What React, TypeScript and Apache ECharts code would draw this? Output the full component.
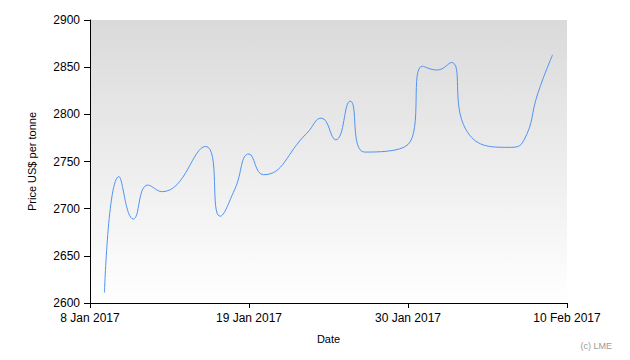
import React, { useEffect, useRef } from "react";
import * as echarts from "echarts";

const dates = [
  "2017-01-09", "2017-01-10", "2017-01-11", "2017-01-12", "2017-01-13",
  "2017-01-16", "2017-01-17", "2017-01-18", "2017-01-19", "2017-01-20",
  "2017-01-23", "2017-01-24", "2017-01-25", "2017-01-26", "2017-01-27",
  "2017-01-30", "2017-01-31", "2017-02-01", "2017-02-02", "2017-02-03",
  "2017-02-06", "2017-02-07", "2017-02-08", "2017-02-09",
];
const prices = [
  2611, 2734, 2689, 2725, 2718,
  2766, 2692, 2720, 2758, 2736,
  2780, 2796, 2773, 2814, 2760,
  2768, 2851, 2847, 2855, 2784,
  2765, 2772, 2823, 2863,
];
const startDate = "2017-01-08";
const tickLabels = ["8 Jan 2017", "19 Jan 2017", "30 Jan 2017", "10 Feb 2017"];
const tickStepDays = 11;

const DAY = 86400000;
const toUTC = (s: string) => {
  const [y, m, d] = s.split("-").map(Number);
  return Date.UTC(y, m - 1, d);
};

export default function App() {
  const ref = useRef<HTMLDivElement>(null);
  useEffect(() => {
    if (!ref.current) return;
    const chart = echarts.init(ref.current, null, { renderer: "svg" });
    const t0 = toUTC(startDate);
    const data = dates.map((d, i) => [(toUTC(d) - t0) / DAY, prices[i]]);
    const font = "'Liberation Sans', Arial, sans-serif";
    chart.setOption({
      animation: false,
      grid: {
        left: 90,
        right: 63,
        top: 20,
        bottom: 57,
        show: true,
        borderWidth: 0,
        backgroundColor: new echarts.graphic.LinearGradient(0, 0, 0, 1, [
          { offset: 0, color: "#dadada" },
          { offset: 1, color: "#ffffff" },
        ]),
      },
      xAxis: {
        type: "value",
        min: 0,
        max: tickStepDays * (tickLabels.length - 1),
        interval: tickStepDays,
        name: "Date",
        nameLocation: "middle",
        nameGap: 30,
        nameTextStyle: { color: "#000", fontSize: 11, fontFamily: font },
        splitLine: { show: false },
        axisLine: { lineStyle: { color: "#000", width: 1 } },
        axisTick: { length: 5, lineStyle: { color: "#000" } },
        axisLabel: {
          color: "#000",
          fontSize: 12,
          fontFamily: font,
          margin: 9,
          formatter: (v: number) => tickLabels[Math.round(v / tickStepDays)] ?? "",
        },
      },
      yAxis: {
        type: "value",
        min: 2600,
        max: 2900,
        interval: 50,
        name: "Price US$ per tonne",
        nameLocation: "middle",
        nameGap: 53,
        nameTextStyle: { color: "#000", fontSize: 11, fontFamily: font },
        splitLine: { show: false },
        axisLine: { show: true, lineStyle: { color: "#000", width: 1 } },
        axisTick: { show: true, length: 6, lineStyle: { color: "#000" } },
        axisLabel: {
          color: "#000",
          fontSize: 12,
          fontFamily: font,
          margin: 10,
          formatter: (v: number) => String(v),
        },
      },
      series: [
        {
          type: "line",
          data,
          smooth: 0.5,
          showSymbol: false,
          lineStyle: { color: "#5293f0", width: 1 },
        },
      ],
      graphic: [
        {
          type: "text",
          right: 18,
          top: 341,
          style: { text: "(c) LME", fill: "#999", fontSize: 9, fontFamily: font },
        },
      ],
    });
    return () => chart.dispose();
  }, []);
  return <div ref={ref} style={{ width: 630, height: 360, position: "absolute", left: 0, top: 0 }} />;
}
